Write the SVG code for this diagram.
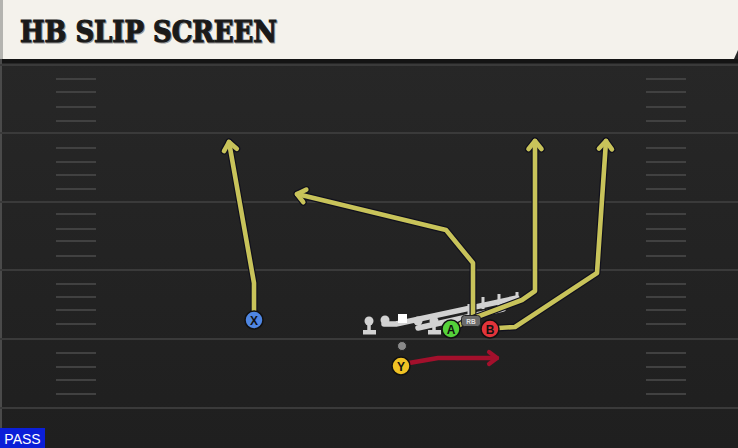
<svg xmlns="http://www.w3.org/2000/svg" width="738" height="448" viewBox="0 0 738 448">
<defs>
<style>
.yl{stroke:#3a3a3a;stroke-width:2}
.hm{stroke:#414141;stroke-width:2}
.ro{fill:none;stroke:#10101c;stroke-width:7;stroke-linejoin:round;stroke-linecap:round}
.ry{fill:none;stroke:#c8c35a;stroke-width:4.6;stroke-linejoin:round;stroke-linecap:round}
.rr{fill:none;stroke:#a3102c;stroke-width:4.4;stroke-linejoin:round;stroke-linecap:round}
.blk{fill:none;stroke:#d2d2d2;stroke-width:5.5;stroke-linecap:round;stroke-linejoin:round}
.tick{stroke:#d2d2d2;stroke-width:3}
.pl{stroke:#111;stroke-width:1.5}
.lt{font-family:"Liberation Sans",Arial,sans-serif;font-weight:bold;font-size:12px;fill:#111;text-anchor:middle}
.tt{font-family:"DejaVu Serif",serif;font-weight:bold;font-size:29px;letter-spacing:0}
</style>
<marker id="ad" markerUnits="userSpaceOnUse" orient="auto" refX="0" refY="0" markerWidth="30" markerHeight="30" viewBox="-15 -15 30 30" overflow="visible">
<path d="M-8,-6.5 L0,0 L-8,6.5" fill="none" stroke="#10101c" stroke-width="7" stroke-linecap="round" stroke-linejoin="round"/>
</marker>
<marker id="ay" markerUnits="userSpaceOnUse" orient="auto" refX="0" refY="0" markerWidth="30" markerHeight="30" viewBox="-15 -15 30 30" overflow="visible">
<path d="M-8,-6.5 L0,0 L-8,6.5" fill="none" stroke="#c8c35a" stroke-width="4.6" stroke-linecap="round" stroke-linejoin="round"/>
</marker>
<marker id="ar" markerUnits="userSpaceOnUse" orient="auto" refX="0" refY="0" markerWidth="30" markerHeight="30" viewBox="-15 -15 30 30" overflow="visible">
<path d="M-8,-6 L0,0 L-8,6" fill="none" stroke="#a3102c" stroke-width="4.2" stroke-linecap="round" stroke-linejoin="round"/>
</marker>
<linearGradient id="fg" x1="0" y1="0" x2="0" y2="1">
<stop offset="0" stop-color="#272727"/>
<stop offset="1" stop-color="#1f1f1f"/>
</linearGradient>
</defs>

<g id="field">
<rect x="0" y="59" width="738" height="389" fill="url(#fg)"/>
<rect x="0" y="59" width="738" height="4" fill="#141414"/>
<rect x="0" y="59" width="2" height="389" fill="#4a4a4a"/>
<line class="yl" x1="0" y1="65" x2="738" y2="65"/>
<line class="yl" x1="0" y1="133" x2="738" y2="133"/>
<line class="yl" x1="0" y1="202" x2="738" y2="202"/>
<line class="yl" x1="0" y1="270" x2="738" y2="270"/>
<line class="yl" x1="0" y1="339" x2="738" y2="339"/>
<line class="yl" x1="0" y1="408" x2="738" y2="408"/>
<g id="hashes-left">
<line class="hm" x1="56" y1="79" x2="96" y2="79"/><line class="hm" x1="56" y1="92" x2="96" y2="92"/><line class="hm" x1="56" y1="107" x2="96" y2="107"/><line class="hm" x1="56" y1="121" x2="96" y2="121"/>
<line class="hm" x1="56" y1="148" x2="96" y2="148"/><line class="hm" x1="56" y1="162" x2="96" y2="162"/><line class="hm" x1="56" y1="175" x2="96" y2="175"/><line class="hm" x1="56" y1="189" x2="96" y2="189"/>
<line class="hm" x1="56" y1="214" x2="96" y2="214"/><line class="hm" x1="56" y1="229" x2="96" y2="229"/><line class="hm" x1="56" y1="241" x2="96" y2="241"/><line class="hm" x1="56" y1="256" x2="96" y2="256"/>
<line class="hm" x1="56" y1="284" x2="96" y2="284"/><line class="hm" x1="56" y1="297" x2="96" y2="297"/><line class="hm" x1="56" y1="310" x2="96" y2="310"/><line class="hm" x1="56" y1="324" x2="96" y2="324"/>
<line class="hm" x1="56" y1="353" x2="96" y2="353"/><line class="hm" x1="56" y1="367" x2="96" y2="367"/><line class="hm" x1="56" y1="380" x2="96" y2="380"/><line class="hm" x1="56" y1="394" x2="96" y2="394"/>
</g>
<g id="hashes-right">
<line class="hm" x1="646" y1="79" x2="686" y2="79"/><line class="hm" x1="646" y1="92" x2="686" y2="92"/><line class="hm" x1="646" y1="107" x2="686" y2="107"/><line class="hm" x1="646" y1="121" x2="686" y2="121"/>
<line class="hm" x1="646" y1="148" x2="686" y2="148"/><line class="hm" x1="646" y1="162" x2="686" y2="162"/><line class="hm" x1="646" y1="175" x2="686" y2="175"/><line class="hm" x1="646" y1="189" x2="686" y2="189"/>
<line class="hm" x1="646" y1="214" x2="686" y2="214"/><line class="hm" x1="646" y1="229" x2="686" y2="229"/><line class="hm" x1="646" y1="241" x2="686" y2="241"/><line class="hm" x1="646" y1="256" x2="686" y2="256"/>
<line class="hm" x1="646" y1="284" x2="686" y2="284"/><line class="hm" x1="646" y1="297" x2="686" y2="297"/><line class="hm" x1="646" y1="310" x2="686" y2="310"/><line class="hm" x1="646" y1="324" x2="686" y2="324"/>
<line class="hm" x1="646" y1="353" x2="686" y2="353"/><line class="hm" x1="646" y1="367" x2="686" y2="367"/><line class="hm" x1="646" y1="380" x2="686" y2="380"/><line class="hm" x1="646" y1="394" x2="686" y2="394"/>
</g>
</g>

<g id="header">
<rect x="0" y="0" width="738" height="59" fill="#f4f2ec"/>
<path d="M734,59 L738,50 L738,59 Z" fill="#262626"/>
<rect x="0" y="0" width="3" height="59" fill="#b4b4b0"/>
<text class="tt" x="21" y="43" fill="#9a9a9a" stroke="#9a9a9a" stroke-width="1.2" textLength="257" lengthAdjust="spacingAndGlyphs">HB SLIP SCREEN</text>
<text class="tt" x="20" y="42" fill="#1a1a1a" stroke="#1a1a1a" stroke-width="1.2" textLength="257" lengthAdjust="spacingAndGlyphs">HB SLIP SCREEN</text>
</g>

<g id="line-blocks">
<path class="blk" d="M384,324 L396,324 L517,298"/>
<path class="blk" d="M418,328 L503,309"/>
<line class="tick" x1="483" y1="297" x2="483" y2="309"/>
<line class="tick" x1="499" y1="294" x2="499" y2="306"/>
<line class="tick" x1="517" y1="292" x2="517" y2="304"/>
<line class="tick" x1="469" y1="304" x2="469" y2="314"/>
</g>

<g id="connectors">
<g id="route-x">
<path class="ro" d="M254,312 L254,283 L229,142" marker-end="url(#ad)"/>
<path class="ry" d="M254,312 L254,283 L229,142" marker-end="url(#ay)"/>
</g>
<g id="route-rb">
<path class="ro" d="M473,316 L473,263 L446,230 L297,194" marker-end="url(#ad)"/>
<path class="ry" d="M473,316 L473,263 L446,230 L297,194" marker-end="url(#ay)"/>
</g>
<g id="route-a">
<path class="ro" d="M458,326 L466,321 L522,300 L535,291 L535,141" marker-end="url(#ad)"/>
<path class="ry" d="M458,326 L466,321 L522,300 L535,291 L535,141" marker-end="url(#ay)"/>
</g>
<g id="route-b">
<path class="ro" d="M498,328 L515,327 L597,273 L606,141" marker-end="url(#ad)"/>
<path class="ry" d="M498,328 L515,327 L597,273 L606,141" marker-end="url(#ay)"/>
</g>
<g id="route-y">
<path class="rr" d="M409,363 L438,358 L497,358" marker-end="url(#ar)"/>
</g>
</g>

<g id="linemen">
<g id="ol1"><circle cx="369" cy="321" r="4.5" fill="#d2d2d2"/><line x1="369" y1="321" x2="369" y2="332" stroke="#d2d2d2" stroke-width="3.5"/><rect x="363" y="330" width="13" height="4.5" fill="#d2d2d2"/></g>
<g id="ol2"><circle cx="385" cy="320" r="4.5" fill="#d2d2d2"/></g>
<g id="center"><rect x="398" y="314" width="9" height="9" fill="#ffffff"/></g>
<g id="ol4"><circle cx="418" cy="321" r="4.5" fill="#d2d2d2"/></g>
<g id="ol5"><circle cx="434" cy="321" r="4.5" fill="#d2d2d2"/><line x1="434" y1="321" x2="434" y2="332" stroke="#d2d2d2" stroke-width="3.5"/><rect x="428" y="330" width="13" height="4.5" fill="#d2d2d2"/></g>
<g id="qb"><circle cx="402" cy="346" r="4.5" fill="#8a8a8a" stroke="#222" stroke-width="1"/></g>
</g>

<g id="player-rb">
<rect x="461.5" y="315.5" width="19" height="11" rx="3" fill="#6a6a6a" stroke="#222" stroke-width="1"/>
<text x="471" y="323.5" font-family="'Liberation Sans',Arial,sans-serif" font-weight="bold" font-size="6.5" fill="#e0e0e0" text-anchor="middle">RB</text>
</g>
<g id="player-x">
<circle class="pl" cx="254" cy="320" r="9" fill="#4f86e2"/>
<text class="lt" x="254" y="324.5">X</text>
</g>
<g id="player-y">
<circle class="pl" cx="401" cy="366" r="9" fill="#f0c224"/>
<text class="lt" x="401" y="370.5">Y</text>
</g>
<g id="player-a">
<circle class="pl" cx="451" cy="329" r="9" fill="#55d23a"/>
<text class="lt" x="451" y="333.5">A</text>
</g>
<g id="player-b">
<circle class="pl" cx="490" cy="329" r="9" fill="#e2343a"/>
<text class="lt" x="490" y="333.5">B</text>
</g>

<g id="pass-label">
<rect x="0" y="428" width="45" height="20" fill="#0b1fd8"/>
<text x="22.5" y="444" font-family="'Liberation Sans',Arial,sans-serif" font-size="14" fill="#ffffff" text-anchor="middle">PASS</text>
</g>
</svg>
